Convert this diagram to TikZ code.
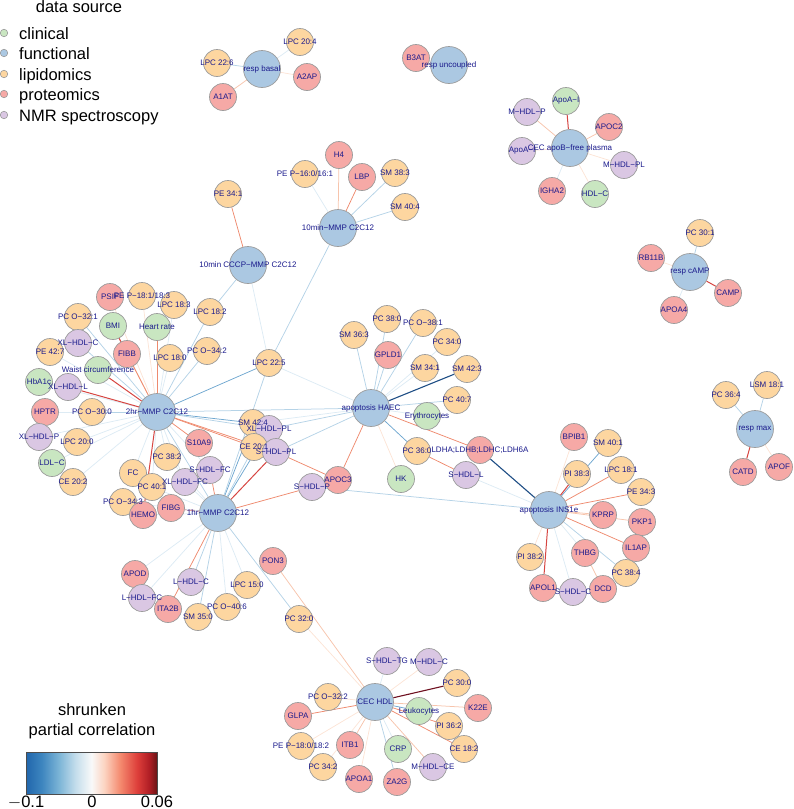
\documentclass[tikz,border=0pt]{standalone}
\usepackage{fontspec}
\setmainfont{Liberation Sans}
\pgfdeclarelayer{background}
\pgfsetlayers{background,main}

% node fills (data source)
\definecolor{funcol}{HTML}{ABC8E2}
\definecolor{lipcol}{HTML}{FDD6A0}
\definecolor{procol}{HTML}{F6A9A6}
\definecolor{clicol}{HTML}{C9E6C1}
\definecolor{nmrcol}{HTML}{DAC7E3}
\definecolor{rimcol}{HTML}{9C9C9C}
\definecolor{labcol}{HTML}{1A1A8C}
% edge colours, negative to positive
\definecolor{cnavy}{HTML}{1F4E85}
\definecolor{cblue}{HTML}{6FA7D0}
\definecolor{clblue}{HTML}{B5D3E7}
\definecolor{cvblue}{HTML}{DDEBF4}
\definecolor{cvpink}{HTML}{FCE4D6}
\definecolor{clpink}{HTML}{F7C4AC}
\definecolor{corange}{HTML}{EE8A6E}
\definecolor{cred}{HTML}{D64541}
\definecolor{cdark}{HTML}{6E1020}
% colour bar stops
\definecolor{cb0}{HTML}{2166AC}
\definecolor{cb1}{HTML}{3D85BF}
\definecolor{cb2}{HTML}{7BB4D6}
\definecolor{cb3}{HTML}{C5DEEC}
\definecolor{cb4}{HTML}{F9F9F9}
\definecolor{cb5}{HTML}{FCD3C0}
\definecolor{cb6}{HTML}{F4896E}
\definecolor{cb7}{HTML}{DD3E3A}
\definecolor{cb8}{HTML}{B01E25}
\definecolor{cb9}{HTML}{6A1515}
\pgfdeclarehorizontalshading{corrbar}{100bp}{color(0bp)=(cb0); color(25bp)=(cb0);
  color(31bp)=(cb1); color(37.5bp)=(cb2); color(44bp)=(cb3); color(50bp)=(cb4);
  color(55bp)=(cb5); color(61bp)=(cb6); color(67.5bp)=(cb7); color(72bp)=(cb8);
  color(75bp)=(cb9); color(100bp)=(cb9)}

\tikzset{
  vtx/.style={circle, draw=rimcol, line width=0.7pt, inner sep=0pt},
  fun/.style={vtx, fill=funcol, minimum size=37pt},
  lip/.style={vtx, fill=lipcol, minimum size=27pt},
  pro/.style={vtx, fill=procol, minimum size=27pt},
  cli/.style={vtx, fill=clicol, minimum size=27pt},
  nmr/.style={vtx, fill=nmrcol, minimum size=27pt},
  lbl/.style={font=\fontsize{8}{9.6}\selectfont, text=labcol, inner sep=0pt},
  link/.style={line width=0.75pt},
  nvy/.style={link, draw=cnavy, line width=1.1pt},
  ngb/.style={link, draw=cblue},
  ngl/.style={link, draw=clblue},
  ngv/.style={link, draw=cvblue},
  psv/.style={link, draw=cvpink},
  psl/.style={link, draw=clpink},
  psm/.style={link, draw=corange},
  pss/.style={link, draw=cred, line width=1pt},
  psd/.style={link, draw=cdark, line width=1.1pt},
  legdot/.style={circle, draw=rimcol, line width=0.6pt, inner sep=0pt, minimum size=7.5pt},
  legtxt/.style={font=\fontsize{16.5}{19}\selectfont, inner sep=0pt, anchor=base west},
}
\newcommand{\vlab}[2]{\node[lbl] (#1-l) at (#1) {#2};}

\begin{document}
\begin{tikzpicture}[x=1pt, y=-1pt]
\useasboundingbox (0,0) rectangle (793,809);

% legend: data source
\node[legtxt, anchor=base] (leg-title) at (79,12) {data source};
\node[legdot, fill=clicol] (leg-cli) at (4,33) {};
\node[legtxt] (leg-cli-t) at (19,39) {clinical};
\node[legdot, fill=funcol] (leg-fun) at (4,53) {};
\node[legtxt] (leg-fun-t) at (19,59) {functional};
\node[legdot, fill=lipcol] (leg-lip) at (4,74) {};
\node[legtxt] (leg-lip-t) at (19,80) {lipidomics};
\node[legdot, fill=procol] (leg-pro) at (4,94) {};
\node[legtxt] (leg-pro-t) at (19,100) {proteomics};
\node[legdot, fill=nmrcol] (leg-nmr) at (4,115) {};
\node[legtxt] (leg-nmr-t) at (19,121) {NMR spectroscopy};

% legend: colour bar
\node[legtxt, anchor=base] (bar-t1) at (92,715) {shrunken};
\node[legtxt, anchor=base] (bar-t2) at (92,735) {partial correlation};
\shade[shading=corrbar] (26,752) rectangle (157,794);
\draw[line width=0.7pt, draw=black!70] (26,752) rectangle (157,794);
\node[legtxt, anchor=base] (bar-lo) at (26,807) {$-$0.1};
\node[legtxt, anchor=base] (bar-mid) at (92,807) {0};
\node[legtxt, anchor=base] (bar-hi) at (157,807) {0.06};

% resp basal / uncoupled
\node[lip] (lpc226) at (217,63) {};
\node[lip] (lpc204) at (300,42) {};
\node[pro] (a2ap) at (307,77) {};
\node[pro] (a1at) at (223,97) {};
\node[fun] (respbasal) at (262,69) {};
\node[pro] (b3at) at (416,58) {};
\node[fun] (respunc) at (449,65) {};

% CEC apoB-free plasma
\node[cli] (apoaig) at (566,101) {};
\node[nmr] (mhdlp) at (527,112) {};
\node[pro] (apoc2) at (609,127) {};
\node[nmr] (apoaip) at (522,151) {};
\node[nmr] (mhdlpl) at (624,165) {};
\node[pro] (igha2) at (552,191) {};
\node[cli] (hdlc) at (595,194) {};
\node[fun] (cecapob) at (570,148) {};

% resp cAMP
\node[lip] (pc301) at (700,233) {};
\node[pro] (rb11b) at (651,258) {};
\node[pro] (camp) at (728,293) {};
\node[pro] (apoa4) at (674,310) {};
\node[fun] (respcamp) at (690,272) {};

% resp max
\node[lip] (pc364) at (726,395) {};
\node[lip] (lsm181) at (767,385) {};
\node[pro] (catd) at (743,472) {};
\node[pro] (apof) at (779,467) {};
\node[fun] (respmax) at (755,429) {};

% 10min MMP
\node[pro] (h4) at (339,155) {};
\node[lip] (pep160) at (305,174) {};
\node[pro] (lbp) at (362,177) {};
\node[lip] (sm383) at (395,173) {};
\node[lip] (sm404) at (405,207) {};
\node[fun] (tenmmp) at (338,228) {};
\node[lip] (pe341) at (228,194) {};
\node[fun] (cccp) at (248,265) {};

% 2hr MMP
\node[pro] (psif) at (110,297) {};
\node[lip] (pep181) at (142,296) {};
\node[lip] (lpc183) at (174,305) {};
\node[lip] (lpc182) at (210,312) {};
\node[lip] (pco321) at (78,317) {};
\node[cli] (bmi) at (113,326) {};
\node[cli] (heart) at (157,327) {};
\node[nmr] (xlhdlc) at (78,343) {};
\node[pro] (fibb) at (127,354) {};
\node[lip] (pe427) at (50,352) {};
\node[lip] (lpc180) at (170,358) {};
\node[lip] (pco342) at (207,351) {};
\node[cli] (waist) at (98,370) {};
\node[cli] (hba1c) at (39,382) {};
\node[nmr] (xlhdll) at (68,387) {};
\node[lip] (lpc225) at (269,363) {};
\node[pro] (hptr) at (45,412) {};
\node[lip] (pco300) at (92,412) {};
\node[nmr] (xlhdlp) at (39,437) {};
\node[lip] (lpc200) at (77,442) {};
\node[pro] (s10a9) at (199,443) {};
\node[cli] (ldlc) at (52,463) {};
\node[lip] (pc382) at (167,457) {};
\node[nmr] (shdlfc) at (210,470) {};
\node[lip] (fc) at (133,473) {};
\node[lip] (ce202) at (73,482) {};
\node[lip] (pc401) at (152,487) {};
\node[nmr] (xlhdlfc) at (185,482) {};
\node[lip] (pco343) at (123,502) {};
\node[pro] (hemo) at (143,515) {};
\node[pro] (fibg) at (171,508) {};
\node[fun] (twohr) at (157,412) {};
\node[fun] (onehr) at (218,513) {};

% between the clusters
\node[lip] (sm424) at (253,423) {};
\node[nmr] (xlhdlpl) at (269,429) {};
\node[lip] (ce201) at (254,447) {};
\node[nmr] (shdlpl) at (276,452) {};
\node[pro] (apoc3) at (338,480) {};
\node[nmr] (shdlp) at (312,487) {};

% apoptosis HAEC
\node[lip] (sm363) at (354,335) {};
\node[lip] (pc380) at (387,319) {};
\node[lip] (pco381) at (423,323) {};
\node[pro] (gpld1) at (388,355) {};
\node[lip] (pc340) at (447,342) {};
\node[lip] (sm341) at (425,368) {};
\node[lip] (sm423) at (467,369) {};
\node[lip] (pc407) at (457,400) {};
\node[cli] (eryth) at (427,416) {};
\node[lip] (pc360) at (417,451) {};
\node[pro] (ldha) at (480,450) {};
\node[nmr] (shdll) at (466,475) {};
\node[cli] (hk) at (401,479) {};
\node[fun] (haec) at (371,408) {};

% apoptosis INS1e
\node[pro] (bpib1) at (574,437) {};
\node[lip] (sm401) at (608,443) {};
\node[lip] (pi383) at (577,474) {};
\node[lip] (lpc181) at (621,470) {};
\node[lip] (pe343) at (641,492) {};
\node[pro] (kprp) at (603,515) {};
\node[pro] (pkp1) at (642,522) {};
\node[pro] (il1ap) at (636,548) {};
\node[pro] (thbg) at (585,553) {};
\node[lip] (pc384) at (626,573) {};
\node[lip] (pi382) at (530,557) {};
\node[pro] (apol1) at (543,588) {};
\node[nmr] (shdlc) at (573,592) {};
\node[pro] (dcd) at (603,589) {};
\node[fun] (ins1e) at (549,510) {};

% below 1hr MMP
\node[pro] (pon3) at (273,561) {};
\node[pro] (apod) at (135,574) {};
\node[nmr] (lhdlc) at (191,582) {};
\node[lip] (lpc150) at (247,585) {};
\node[nmr] (lhdlfc) at (142,598) {};
\node[pro] (ita2b) at (168,609) {};
\node[lip] (pco406) at (227,607) {};
\node[lip] (sm350) at (198,617) {};
\node[lip] (pc320) at (299,619) {};

% CEC HDL
\node[nmr] (shdltg) at (387,661) {};
\node[nmr] (mhdlc) at (429,662) {};
\node[lip] (pc300) at (457,683) {};
\node[lip] (pco322) at (328,697) {};
\node[pro] (glpa) at (298,716) {};
\node[cli] (leuko) at (419,711) {};
\node[pro] (k22e) at (478,708) {};
\node[lip] (pi362) at (449,726) {};
\node[pro] (itb1) at (350,745) {};
\node[cli] (crp) at (398,749) {};
\node[lip] (ce182) at (464,749) {};
\node[lip] (pep180) at (301,746) {};
\node[lip] (pc342) at (323,767) {};
\node[pro] (apoa1) at (359,779) {};
\node[pro] (za2g) at (397,782) {};
\node[nmr] (mhdlce) at (433,767) {};
\node[fun] (cechdl) at (375,702) {};

% edges behind the circles
\begin{pgfonlayer}{background}
\draw[ngl] (respbasal) -- (lpc226);
\draw[ngv] (respbasal) -- (lpc204);
\draw[psv] (respbasal) -- (a2ap);
\draw[psl] (respbasal) -- (a1at);
\draw[psl] (respunc) -- (b3at);
\draw[pss] (cecapob) -- (apoaig);
\draw[psl] (cecapob) -- (mhdlp);
\draw[psl] (cecapob) -- (apoc2);
\draw[psv] (cecapob) -- (mhdlpl);
\draw[ngv] (cecapob) -- (igha2);
\draw[psv] (cecapob) -- (hdlc);
\draw[psv] (cecapob) -- (apoaip);
\draw[ngl] (respcamp) -- (pc301);
\draw[psv] (respcamp) -- (rb11b);
\draw[pss] (respcamp) -- (camp);
\draw[ngv] (respcamp) -- (apoa4);
\draw[ngl] (respmax) -- (pc364);
\draw[ngl] (respmax) -- (lsm181);
\draw[pss] (respmax) -- (catd);
\draw[psv] (respmax) -- (apof);
% 10min
\draw[psl] (tenmmp) -- (h4);
\draw[ngv] (tenmmp) -- (pep160);
\draw[psm] (tenmmp) -- (lbp);
\draw[ngl] (tenmmp) -- (sm383);
\draw[ngl] (tenmmp) -- (sm404);
\draw[ngl] (tenmmp) -- (lpc225);
\draw[psm] (cccp) -- (pe341);
\draw[ngl] (cccp) -- (lpc182);
\draw[ngv] (cccp) -- (lpc225);
% 2hr
\draw[psv] (twohr) -- (psif);
\draw[psv] (twohr) -- (pep181);
\draw[ngv] (twohr) -- (lpc183);
\draw[ngl] (twohr) -- (lpc182);
\draw[ngl] (twohr) -- (pco321);
\draw[psl] (twohr) -- (bmi);
\draw[psm] (twohr) -- (heart);
\draw[ngl] (twohr) -- (xlhdlc);
\draw[psm] (twohr) -- (fibb);
\draw[ngv] (twohr) -- (pe427);
\draw[ngv] (twohr) -- (lpc180);
\draw[ngl] (twohr) -- (pco342);
\draw[pss] (twohr) -- (waist);
\draw[ngv] (twohr) -- (hba1c);
\draw[pss] (twohr) -- (xlhdll);
\draw[ngb] (twohr) -- (lpc225);
\draw[ngv] (twohr) -- (hptr);
\draw[ngl] (twohr) -- (pco300);
\draw[ngv] (twohr) -- (xlhdlp);
\draw[ngv] (twohr) -- (lpc200);
\draw[ngv] (twohr) -- (ldlc);
\draw[ngv] (twohr) -- (ce202);
\draw[psm] (twohr) -- (s10a9);
\draw[ngv] (twohr) -- (pc382);
\draw[ngv] (twohr) -- (fc);
\draw[ngv] (twohr) -- (pc401);
\draw[pss] (twohr) -- (hemo);
\draw[ngb] (twohr) -- (sm424);
\draw[ngl] (twohr) -- (xlhdlpl);
\draw[psm] (twohr) -- (ce201);
\draw[psm] (twohr) -- (shdlpl);
\draw[ngl] (twohr) -- (haec);
\draw[ngv] (twohr) -- (shdlfc);
\draw[ngv] (twohr) -- (xlhdlfc);
\draw[ngl] (twohr) -- (onehr);
\draw[pss] (bmi) -- (fibb);
% 1hr
\draw[pss] (onehr) -- (fibg);
\draw[psm] (onehr) -- (shdlfc);
\draw[ngb] (onehr) -- (sm424);
\draw[ngb] (onehr) -- (xlhdlpl);
\draw[ngl] (onehr) -- (ce201);
\draw[pss] (onehr) -- (shdlpl);
\draw[psm] (onehr) -- (shdlp);
\draw[ngl] (onehr) -- (lpc225);
\draw[ngv] (onehr) -- (apod);
\draw[ngv] (onehr) -- (lhdlfc);
\draw[ngl] (onehr) -- (lhdlc);
\draw[psm] (onehr) -- (ita2b);
\draw[ngl] (onehr) -- (sm350);
\draw[ngv] (onehr) -- (pco406);
\draw[ngv] (onehr) -- (lpc150);
\draw[ngl] (onehr) -- (pc320);
\draw[ngv] (onehr) -- (hemo);
\draw[ngv] (onehr) -- (pco343);
\draw[ngv] (onehr) -- (pc401);
\draw[ngv] (onehr) -- (xlhdlfc);
\draw[ngv] (onehr) -- (pc382);
% HAEC
\draw[psm] (apoc3) -- (shdlpl);
\draw[psm] (apoc3) -- (haec);
\draw[ngl] (shdlpl) -- (haec);
\draw[ngv] (sm424) -- (haec);
\draw[ngl] (xlhdlpl) -- (haec);
\draw[ngv] (lpc225) -- (haec);
\draw[ngl] (haec) -- (sm363);
\draw[ngl] (haec) -- (pc380);
\draw[ngl] (haec) -- (gpld1);
\draw[ngl] (haec) -- (pco381);
\draw[ngv] (haec) -- (sm341);
\draw[ngv] (haec) -- (pc340);
\draw[nvy] (haec) -- (sm423);
\draw[ngl] (haec) -- (pc407);
\draw[ngv] (haec) -- (eryth);
\draw[ngb] (haec) -- (pc360);
\draw[psm] (haec) -- (ldha);
\draw[psv] (haec) -- (hk);
\draw[psm] (pc360) -- (shdll);
% INS1e
\draw[nvy] (ins1e) -- (ldha);
\draw[ngv] (ins1e) -- (shdll);
\draw[ngl] (ins1e) -- (shdlp);
\draw[psv] (ins1e) -- (bpib1);
\draw[ngb] (ins1e) -- (sm401);
\draw[pss] (ins1e) -- (pi383);
\draw[psm] (ins1e) -- (lpc181);
\draw[psm] (ins1e) -- (pe343);
\draw[psl] (ins1e) -- (kprp);
\draw[psl] (ins1e) -- (pkp1);
\draw[psm] (ins1e) -- (il1ap);
\draw[ngv] (ins1e) -- (thbg);
\draw[ngl] (ins1e) -- (pc384);
\draw[ngv] (ins1e) -- (shdlc);
\draw[psl] (thbg) -- (dcd);
\draw[pss] (ins1e) -- (apol1);
\draw[psv] (ins1e) -- (pi382);
% CEC HDL
\draw[psl] (pon3) -- (cechdl);
\draw[psv] (pc320) -- (cechdl);
\draw[ngv] (cechdl) -- (shdltg);
\draw[psv] (cechdl) -- (mhdlc);
\draw[psd] (cechdl) -- (pc300);
\draw[psv] (cechdl) -- (pco322);
\draw[psm] (cechdl) -- (glpa);
\draw[ngb] (cechdl) -- (leuko);
\draw[psl] (cechdl) -- (k22e);
\draw[psm] (cechdl) -- (pi362);
\draw[psm] (cechdl) -- (ce182);
\draw[psl] (cechdl) -- (mhdlce);
\draw[ngl] (cechdl) -- (za2g);
\draw[ngv] (cechdl) -- (crp);
\draw[psv] (cechdl) -- (apoa1);
\draw[psl] (cechdl) -- (itb1);
\draw[psv] (cechdl) -- (pc342);
\draw[psv] (cechdl) -- (pep180);
\end{pgfonlayer}

% labels on top of every circle
\vlab{lpc226}{LPC 22:6}
\vlab{lpc204}{LPC 20:4}
\vlab{a2ap}{A2AP}
\vlab{a1at}{A1AT}
\vlab{respbasal}{resp basal}
\vlab{b3at}{B3AT}
\vlab{respunc}{resp uncoupled}
\vlab{apoaig}{ApoA−I}
\vlab{mhdlp}{M−HDL−P}
\vlab{apoc2}{APOC2}
\vlab{apoaip}{ApoA−I}
\vlab{mhdlpl}{M−HDL−PL}
\vlab{igha2}{IGHA2}
\vlab{hdlc}{HDL−C}
\vlab{cecapob}{CEC apoB−free plasma}
\vlab{pc301}{PC 30:1}
\vlab{rb11b}{RB11B}
\vlab{camp}{CAMP}
\vlab{apoa4}{APOA4}
\vlab{respcamp}{resp cAMP}
\vlab{pc364}{PC 36:4}
\vlab{lsm181}{LSM 18:1}
\vlab{catd}{CATD}
\vlab{apof}{APOF}
\vlab{respmax}{resp max}
\vlab{h4}{H4}
\vlab{pep160}{PE P−16:0/16:1}
\vlab{lbp}{LBP}
\vlab{sm383}{SM 38:3}
\vlab{sm404}{SM 40:4}
\vlab{tenmmp}{10min−MMP C2C12}
\vlab{pe341}{PE 34:1}
\vlab{cccp}{10min CCCP−MMP C2C12}
\vlab{psif}{PSIF}
\vlab{pep181}{PE P−18:1/18:3}
\vlab{lpc183}{LPC 18:3}
\vlab{lpc182}{LPC 18:2}
\vlab{pco321}{PC O−32:1}
\vlab{bmi}{BMI}
\vlab{heart}{Heart rate}
\vlab{xlhdlc}{XL−HDL−C}
\vlab{fibb}{FIBB}
\vlab{pe427}{PE 42:7}
\vlab{lpc180}{LPC 18:0}
\vlab{pco342}{PC O−34:2}
\vlab{waist}{Waist circumference}
\vlab{hba1c}{HbA1c}
\vlab{xlhdll}{XL−HDL−L}
\vlab{lpc225}{LPC 22:5}
\vlab{hptr}{HPTR}
\vlab{pco300}{PC O−30:0}
\vlab{xlhdlp}{XL−HDL−P}
\vlab{lpc200}{LPC 20:0}
\vlab{s10a9}{S10A9}
\vlab{ldlc}{LDL−C}
\vlab{pc382}{PC 38:2}
\vlab{shdlfc}{S−HDL−FC}
\vlab{fc}{FC}
\vlab{ce202}{CE 20:2}
\vlab{pc401}{PC 40:1}
\vlab{xlhdlfc}{XL−HDL−FC}
\vlab{pco343}{PC O−34:3}
\vlab{hemo}{HEMO}
\vlab{fibg}{FIBG}
\vlab{twohr}{2hr−MMP C2C12}
\vlab{onehr}{1hr−MMP C2C12}
\vlab{sm424}{SM 42:4}
\vlab{xlhdlpl}{XL−HDL−PL}
\vlab{ce201}{CE 20:1}
\vlab{shdlpl}{S−HDL−PL}
\vlab{apoc3}{APOC3}
\vlab{shdlp}{S−HDL−P}
\vlab{sm363}{SM 36:3}
\vlab{pc380}{PC 38:0}
\vlab{pco381}{PC O−38:1}
\vlab{gpld1}{GPLD1}
\vlab{pc340}{PC 34:0}
\vlab{sm341}{SM 34:1}
\vlab{sm423}{SM 42:3}
\vlab{pc407}{PC 40:7}
\vlab{eryth}{Erythrocytes}
\vlab{pc360}{PC 36:0}
\vlab{ldha}{LDHA;LDHB;LDHC;LDH6A}
\vlab{shdll}{S−HDL−L}
\vlab{hk}{HK}
\vlab{haec}{apoptosis HAEC}
\vlab{bpib1}{BPIB1}
\vlab{sm401}{SM 40:1}
\vlab{pi383}{PI 38:3}
\vlab{lpc181}{LPC 18:1}
\vlab{pe343}{PE 34:3}
\vlab{kprp}{KPRP}
\vlab{pkp1}{PKP1}
\vlab{il1ap}{IL1AP}
\vlab{thbg}{THBG}
\vlab{pc384}{PC 38:4}
\vlab{pi382}{PI 38:2}
\vlab{apol1}{APOL1}
\vlab{shdlc}{S−HDL−C}
\vlab{dcd}{DCD}
\vlab{ins1e}{apoptosis INS1e}
\vlab{pon3}{PON3}
\vlab{apod}{APOD}
\vlab{lhdlc}{L−HDL−C}
\vlab{lpc150}{LPC 15:0}
\vlab{lhdlfc}{L−HDL−FC}
\vlab{ita2b}{ITA2B}
\vlab{pco406}{PC O−40:6}
\vlab{sm350}{SM 35:0}
\vlab{pc320}{PC 32:0}
\vlab{shdltg}{S−HDL−TG}
\vlab{mhdlc}{M−HDL−C}
\vlab{pc300}{PC 30:0}
\vlab{pco322}{PC O−32:2}
\vlab{glpa}{GLPA}
\vlab{leuko}{Leukocytes}
\vlab{k22e}{K22E}
\vlab{pi362}{PI 36:2}
\vlab{itb1}{ITB1}
\vlab{crp}{CRP}
\vlab{ce182}{CE 18:2}
\vlab{pep180}{PE P−18:0/18:2}
\vlab{pc342}{PC 34:2}
\vlab{apoa1}{APOA1}
\vlab{za2g}{ZA2G}
\vlab{mhdlce}{M−HDL−CE}
\vlab{cechdl}{CEC HDL}
\end{tikzpicture}
\end{document}
